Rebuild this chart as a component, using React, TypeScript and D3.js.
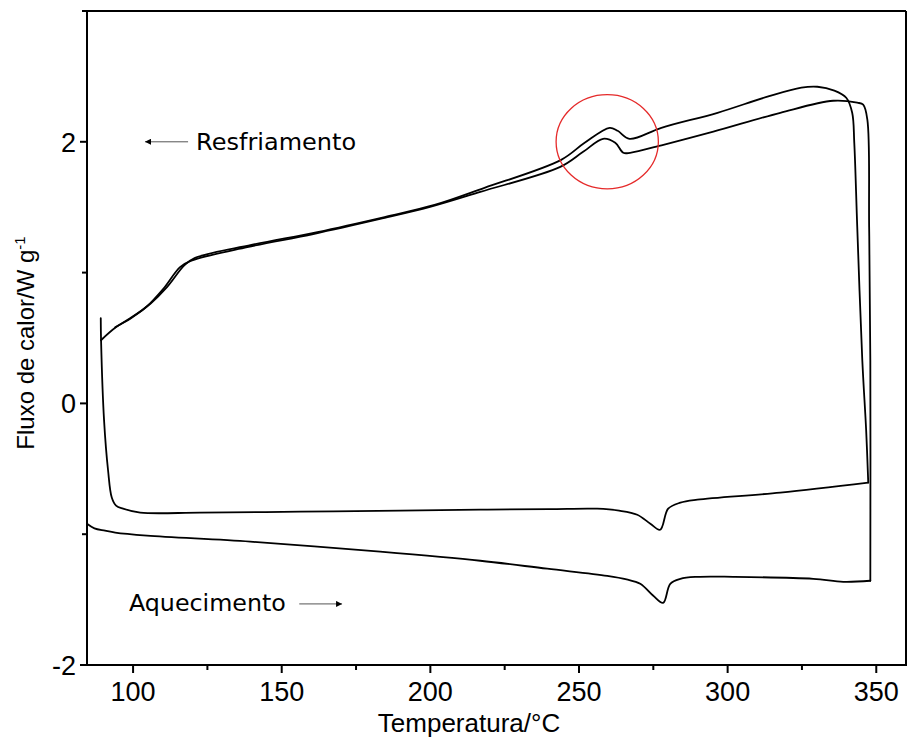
import React from "react";
import * as d3 from "d3";

// Inner loop: heating (upper of lower pair), then rise and cooling (upper of upper pair)
const heatInnerT = [89.13, 89.23, 90.24, 91.59, 92.83, 94.28, 96.64, 102.4, 122.5, 156.2, 189.8, 216.8, 240.0, 256.1, 263.5, 269.6, 274.0, 277.3, 280.0, 284.1, 289.8, 317.7, 347.3];
const heatInnerV = [0.651, 0.483, -0.13, -0.513, -0.72, -0.782, -0.805, -0.835, -0.835, -0.828, -0.82, -0.812, -0.808, -0.805, -0.82, -0.851, -0.92, -0.966, -0.805, -0.759, -0.736, -0.682, -0.605];
const coolInnerT = [347.3, 346.6, 345.3, 343.6, 342.6, 341.9, 339.9, 335.9, 330.2, 324.8, 313.4, 296.6, 277.7, 267.0, 263.0, 260.3, 251.9, 244.0, 218.2, 201.4, 184.6, 162.0, 139.8, 120.7, 117.3, 111.4, 106.0, 99.3, 94.2, 89.2];
const coolInnerV = [-0.605, -0.207, 0.33, 1.349, 1.992, 2.222, 2.337, 2.391, 2.421, 2.414, 2.345, 2.222, 2.107, 2.023, 2.084, 2.107, 1.992, 1.862, 1.648, 1.517, 1.425, 1.31, 1.211, 1.111, 1.057, 0.889, 0.766, 0.651, 0.582, 0.483];

// Outer loop: heating (lower), then rise and cooling (lower of upper pair)
const heatOuterT = [84.5, 87.0, 90.6, 94.0, 104.7, 139.4, 183.1, 216.8, 239.3, 259.5, 266.0, 270.6, 275.0, 278.3, 280.7, 284.1, 289.8, 301.9, 328.8, 338.9, 348.0];
const heatOuterV = [-0.92, -0.955, -0.973, -0.988, -1.011, -1.057, -1.134, -1.203, -1.264, -1.318, -1.345, -1.379, -1.471, -1.525, -1.379, -1.341, -1.326, -1.326, -1.341, -1.364, -1.356];
const coolOuterT = [348.0, 348.0, 347.6, 347.0, 345.6, 343.6, 335.5, 317.7, 295.2, 278.4, 267.2, 264.9, 262.2, 258.1, 251.4, 243.7, 216.8, 199.9, 183.1, 160.6, 138.4, 119.2, 115.8, 110.1, 104.7, 99.0, 94.0];
const coolOuterV = [-1.356, 0.33, 1.349, 2.169, 2.284, 2.299, 2.314, 2.222, 2.077, 1.977, 1.916, 1.916, 1.992, 2.023, 1.923, 1.808, 1.617, 1.502, 1.41, 1.295, 1.195, 1.088, 1.042, 0.874, 0.743, 0.651, 0.582];

const xTicksMajor = [100, 150, 200, 250, 300, 350];
const xTicksMinor = [125, 175, 225, 275, 325];
const yTicksMajor = [-2, 0, 2];
const yTicksMinor = [-1, 1, 3];

const xDomain = [84.5, 360];
const yDomain = [-2, 3];

// Annotations (data coords)
const circleCenter = [259.5, 2.0];
const circleRadius = [17.2, 0.36];
const coolLabel = { text: "Resfriamento", t: 121.2, v: 1.94, arrowFrom: 118.5, arrowTo: 104, arrowV: 2.0 };
const heatLabel = { text: "Aquecimento", t: 98.6, v: -1.586, arrowFrom: 155.9, arrowTo: 170.3, arrowV: -1.533 };

export default function App() {
  const x = d3.scaleLinear().domain(xDomain).range([87, 906]);
  const y = d3.scaleLinear().domain(yDomain).range([665, 11]);
  const line = d3
    .line<[number, number]>()
    .x((d) => x(d[0]))
    .y((d) => y(d[1]))
    .curve(d3.curveCatmullRom.alpha(0.5));

  const zip = (a: number[], b: number[]) => a.map((t, i) => [t, b[i]] as [number, number]);
  const segments = [
    zip(heatInnerT, heatInnerV),
    zip(coolInnerT, coolInnerV),
    zip(heatOuterT, heatOuterV),
    zip(coolOuterT, coolOuterV),
  ];

  const axisFont = "'Liberation Sans', Arial, sans-serif";
  const annFont = "'DejaVu Sans', Verdana, sans-serif";

  return (
    <svg width={908} height={742} style={{ position: "absolute", left: 0, top: 0, background: "#fff" }}>
      <defs>
        <marker id="ah" viewBox="0 0 10 10" refX="10" refY="5" markerWidth="9" markerHeight="6" orient="auto" markerUnits="userSpaceOnUse">
          <path d="M0,0 L10,5 L0,10 z" fill="#000" />
        </marker>
      </defs>
      {/* frame */}
      <line x1={x(xDomain[0])} x2={x(xDomain[1])} y1={y(3)} y2={y(3)} stroke="#000" strokeWidth={2} />
      <line x1={x(xDomain[1])} x2={x(xDomain[1])} y1={y(3)} y2={y(-2)} stroke="#000" strokeWidth={2} />
      <line x1={x(xDomain[0])} x2={x(xDomain[1]) + 1} y1={y(-2)} y2={y(-2)} stroke="#000" strokeWidth={2} />
      <line x1={x(xDomain[0])} x2={x(xDomain[0])} y1={y(3) - 1} y2={y(-2)} stroke="#000" strokeWidth={2} />
      {/* x ticks */}
      {xTicksMajor.map((t) => (
        <g key={"xm" + t}>
          <line x1={x(t)} x2={x(t)} y1={y(-2)} y2={y(-2) + 8} stroke="#000" strokeWidth={2} />
          <text x={x(t)} y={701} textAnchor="middle" fontFamily={axisFont} fontSize={27} fill="#000">
            {t}
          </text>
        </g>
      ))}
      {xTicksMinor.map((t) => (
        <line key={"xn" + t} x1={x(t)} x2={x(t)} y1={y(-2)} y2={y(-2) + 5} stroke="#000" strokeWidth={2} />
      ))}
      {/* y ticks */}
      {yTicksMajor.map((v) => (
        <g key={"ym" + v}>
          <line x1={x(xDomain[0]) - 7} x2={x(xDomain[0])} y1={y(v)} y2={y(v)} stroke="#000" strokeWidth={2} />
          <text x={76} y={y(v) + 10} textAnchor="end" fontFamily={axisFont} fontSize={27} fill="#000">
            {v < 0 ? "-" + Math.abs(v) : v}
          </text>
        </g>
      ))}
      {yTicksMinor.map((v) => (
        <line key={"yn" + v} x1={x(xDomain[0]) - 5} x2={x(xDomain[0])} y1={y(v)} y2={y(v)} stroke="#000" strokeWidth={2} />
      ))}
      {/* axis titles */}
      <text x={469} y={732} textAnchor="middle" fontFamily={axisFont} fontSize={26} fill="#000">
        Temperatura/°C
      </text>
      <text transform="translate(34,343) rotate(-90)" textAnchor="middle" fontFamily={axisFont} fontSize={24} fill="#000">
        Fluxo de calor/W g<tspan dy={-9} fontSize={15}>-1</tspan>
      </text>
      {/* curves */}
      {segments.map((s, i) => (
        <path key={"c" + i} d={line(s) || ""} fill="none" stroke="#000" strokeWidth={1.8} strokeLinejoin="round" strokeLinecap="round" />
      ))}
      {/* red ellipse */}
      <ellipse
        cx={x(circleCenter[0])}
        cy={y(circleCenter[1])}
        rx={x(circleCenter[0] + circleRadius[0]) - x(circleCenter[0])}
        ry={y(circleCenter[1]) - y(circleCenter[1] + circleRadius[1])}
        fill="none"
        stroke="#e52a2a"
        strokeWidth={1.3}
      />
      {/* annotations */}
      <line x1={x(coolLabel.arrowFrom)} x2={x(coolLabel.arrowTo)} y1={y(coolLabel.arrowV)} y2={y(coolLabel.arrowV)} stroke="#555" strokeWidth={1} markerEnd="url(#ah)" />
      <text x={x(coolLabel.t)} y={y(coolLabel.v)} fontFamily={annFont} fontSize={23} textLength={160} lengthAdjust="spacingAndGlyphs" fill="#000">
        {coolLabel.text}
      </text>
      <text x={x(heatLabel.t)} y={y(heatLabel.v)} fontFamily={annFont} fontSize={23} textLength={157} lengthAdjust="spacingAndGlyphs" fill="#000">
        {heatLabel.text}
      </text>
      <line x1={x(heatLabel.arrowFrom)} x2={x(heatLabel.arrowTo)} y1={y(heatLabel.arrowV)} y2={y(heatLabel.arrowV)} stroke="#555" strokeWidth={1} markerEnd="url(#ah)" />
    </svg>
  );
}
